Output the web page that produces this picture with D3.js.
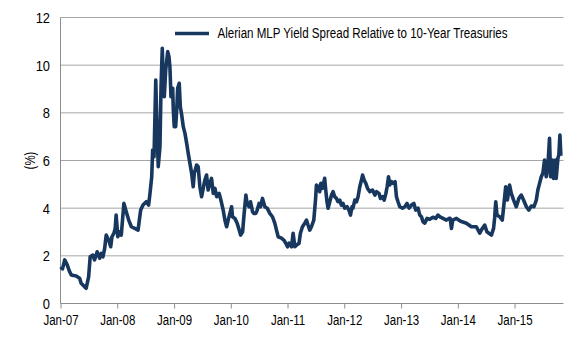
<!DOCTYPE html>
<html>
<head>
<meta charset="utf-8">
<script src="https://cdn.jsdelivr.net/npm/d3@7"></script>
<style>
  body { margin: 0; background: #fff; }
  text { font-family: "Liberation Sans", Arial, sans-serif; fill: #000; }
</style>
</head>
<body>
<div id="chart"></div>
<script>
var seriesName = "Alerian MLP Yield Spread Relative to 10-Year Treasuries";
var yTicks = [0, 2, 4, 6, 8, 10, 12];
var xTickLabels = ["Jan-07", "Jan-08", "Jan-09", "Jan-10", "Jan-11", "Jan-12", "Jan-13", "Jan-14", "Jan-15"];

var dates = [
  "2007-01-02", "2007-01-14", "2007-01-28", "2007-02-13", "2007-03-01", "2007-03-11", "2007-03-25", "2007-04-12",
  "2007-05-04", "2007-05-14", "2007-06-05", "2007-06-15", "2007-07-01", "2007-07-11", "2007-07-28", "2007-08-08",
  "2007-08-25", "2007-09-10", "2007-09-20", "2007-10-01", "2007-10-12", "2007-10-22", "2007-11-07", "2007-11-20",
  "2007-11-28", "2007-12-11", "2007-12-19", "2007-12-25",
  "2008-01-05", "2008-01-16", "2008-01-27", "2008-02-13", "2008-02-28", "2008-03-15", "2008-04-01", "2008-04-23",
  "2008-05-14", "2008-05-31", "2008-06-15", "2008-07-06", "2008-07-21", "2008-07-30", "2008-08-10", "2008-08-16",
  "2008-08-25", "2008-09-05", "2008-09-11", "2008-09-21", "2008-10-02", "2008-10-09", "2008-10-17", "2008-10-23",
  "2008-10-30", "2008-11-08", "2008-11-14", "2008-11-21", "2008-11-29", "2008-12-05", "2008-12-12", "2008-12-16",
  "2008-12-23", "2008-12-27",
  "2009-01-02", "2009-01-11", "2009-01-18", "2009-01-24", "2009-02-03", "2009-02-10", "2009-02-19", "2009-03-01",
  "2009-03-12", "2009-03-23", "2009-04-02", "2009-04-13", "2009-04-24", "2009-05-04", "2009-05-11", "2009-05-26",
  "2009-06-05", "2009-06-16", "2009-06-27", "2009-07-18", "2009-07-29", "2009-08-08", "2009-08-19", "2009-08-30",
  "2009-09-10", "2009-09-21", "2009-10-02", "2009-10-18", "2009-10-29", "2009-11-13", "2009-11-24", "2009-12-05",
  "2009-12-15",
  "2010-01-06", "2010-01-12", "2010-01-27", "2010-02-11", "2010-02-24", "2010-03-05", "2010-03-18", "2010-03-26",
  "2010-04-08", "2010-04-16", "2010-04-29", "2010-05-08", "2010-05-21", "2010-05-29", "2010-06-11", "2010-06-20",
  "2010-07-02", "2010-07-11", "2010-07-24", "2010-08-08", "2010-08-23", "2010-09-09", "2010-09-26", "2010-10-11",
  "2010-10-22", "2010-11-02", "2010-11-23", "2010-12-08", "2010-12-21",
  "2011-01-01", "2011-01-11", "2011-01-27", "2011-02-06", "2011-02-17", "2011-02-28", "2011-03-16", "2011-03-25",
  "2011-04-07", "2011-04-22", "2011-05-03", "2011-05-13", "2011-05-24", "2011-06-04", "2011-06-19", "2011-06-30",
  "2011-07-06", "2011-07-16", "2011-07-27", "2011-08-03", "2011-08-14", "2011-08-28", "2011-09-04", "2011-09-12",
  "2011-09-19", "2011-09-30", "2011-10-11", "2011-10-21", "2011-11-01", "2011-11-12", "2011-11-22", "2011-12-03",
  "2011-12-14", "2011-12-24",
  "2012-01-04", "2012-01-19", "2012-01-31", "2012-02-10", "2012-02-20", "2012-02-26", "2012-03-09", "2012-03-20",
  "2012-03-30", "2012-04-10", "2012-04-21", "2012-04-28", "2012-05-08", "2012-05-19", "2012-05-30", "2012-06-14",
  "2012-07-01", "2012-07-16", "2012-07-27", "2012-08-12", "2012-08-21", "2012-09-03", "2012-09-14", "2012-09-25",
  "2012-10-03", "2012-10-12", "2012-10-20", "2012-10-31", "2012-11-10", "2012-11-23", "2012-12-02", "2012-12-12",
  "2012-12-23",
  "2013-01-10", "2013-01-25", "2013-02-08", "2013-02-21", "2013-03-09", "2013-03-24", "2013-04-05", "2013-04-20",
  "2013-05-01", "2013-05-12", "2013-05-22", "2013-06-02", "2013-06-17", "2013-07-04", "2013-07-25", "2013-08-12",
  "2013-08-26", "2013-09-11", "2013-09-28", "2013-10-19", "2013-11-05", "2013-11-13", "2013-11-21", "2013-11-29",
  "2013-12-23",
  "2014-01-19", "2014-02-25", "2014-03-29", "2014-04-30", "2014-05-22", "2014-06-03", "2014-06-23", "2014-07-07",
  "2014-08-05", "2014-08-19", "2014-08-26", "2014-09-02", "2014-09-10", "2014-09-27", "2014-10-14", "2014-10-23",
  "2014-11-05", "2014-11-16", "2014-11-30", "2014-12-11", "2014-12-26",
  "2015-01-12", "2015-01-29", "2015-02-13", "2015-02-28", "2015-03-18", "2015-04-03", "2015-04-19", "2015-05-06",
  "2015-05-21", "2015-05-31", "2015-06-11", "2015-06-22", "2015-07-02", "2015-07-13", "2015-07-24", "2015-08-03",
  "2015-08-14", "2015-08-21", "2015-09-01", "2015-09-09", "2015-09-20", "2015-09-26", "2015-10-07", "2015-10-13",
  "2015-10-20", "2015-10-26"
];

var spread = [
  1.54, 1.45, 1.83, 1.62, 1.33, 1.20, 1.18, 1.15,
  1.06, 0.85, 0.70, 0.64, 1.12, 1.96, 2.03, 1.83,
  2.17, 1.90, 2.10, 1.96, 2.30, 2.87, 2.66, 2.38,
  2.80, 2.95, 3.15, 3.71,
  2.80, 3.01, 2.87, 4.20, 3.85, 3.50, 3.22, 3.15,
  3.08, 3.92, 4.13, 4.27, 4.13, 4.62, 5.32, 6.44,
  6.16, 9.38, 7.84, 5.74, 6.58, 9.10, 10.71, 9.38,
  8.68, 9.80, 10.15, 10.57, 10.36, 9.94, 8.68, 8.96,
  9.03, 8.12,
  7.42, 7.42, 8.12, 9.03, 9.24, 8.26, 7.91, 7.42,
  7.14, 6.72, 6.30, 5.88, 5.46, 4.90, 5.46, 5.81,
  5.74, 4.90, 4.48, 5.18, 5.39, 4.76, 5.04, 5.25,
  4.62, 4.83, 4.48, 4.62, 4.34, 3.92, 3.50, 3.22,
  3.50,
  4.06, 3.64, 3.57, 3.37, 3.08, 2.87, 3.01, 3.64,
  4.55, 4.20, 4.06, 4.27, 3.85, 3.78, 3.78, 3.92,
  4.20, 4.06, 4.41, 4.06, 4.00, 3.78, 3.64, 3.37,
  3.08, 2.80, 2.74, 2.66, 2.53,
  2.38, 2.53, 2.38, 2.95, 2.38, 2.45, 2.53, 2.95,
  3.22, 3.37, 3.50, 3.29, 3.08, 3.22, 3.50, 4.34,
  4.97, 4.90, 4.69, 5.04, 4.83, 5.25, 4.76, 4.27,
  4.00, 4.27, 4.55, 4.69, 4.48, 4.41, 4.27, 4.34,
  4.13, 4.20,
  4.00, 4.06, 3.92, 3.71, 4.06, 4.00, 4.34, 4.27,
  4.48, 4.90, 5.18, 5.39, 5.18, 5.04, 4.83, 4.69,
  4.76, 4.55, 4.69, 4.62, 4.41, 4.48, 4.34, 4.62,
  4.90, 5.32, 4.97, 5.11, 5.04, 5.11, 4.48, 4.27,
  4.06,
  4.00, 4.06, 4.20, 4.00, 4.13, 4.20, 3.92, 4.00,
  3.71, 3.64, 3.43, 3.37, 3.57, 3.53, 3.62, 3.57,
  3.71, 3.62, 3.57, 3.50, 3.57, 3.57, 3.15, 3.50,
  3.57,
  3.45, 3.37, 3.22, 3.22, 2.95, 3.10, 3.29, 3.01,
  2.87, 3.15, 3.60, 4.27, 3.71, 3.64, 3.50, 4.06,
  4.90, 4.34, 4.97, 4.62, 4.34,
  4.06, 4.41, 4.55, 4.34, 4.06, 3.92, 4.09, 4.06,
  4.34, 4.76, 5.04, 5.32, 5.46, 6.02, 5.32, 5.74,
  6.93, 5.32, 6.02, 5.25, 6.02, 5.25, 6.09, 6.23,
  7.07, 6.20
];

var width = 583, height = 350;
var margin = {top: 17.5, right: 19.5, bottom: 46.5, left: 60.5};
var parseDate = d3.timeParse("%Y-%m-%d");
var narrow = "scale(0.82,1)";   // squeeze Liberation Sans to look like a condensed face

var data = dates.map(function (d, i) {
    return {date: parseDate(d), value: spread[i]};
});

var svg = d3.select("#chart")
    .append("svg")
    .attr("width", width)
    .attr("height", height);

var x = d3.scaleTime()
    .domain([new Date(2007, 0, 1), new Date(2015, 10, 12)])
    .range([margin.left, width - margin.right]);

var y = d3.scaleLinear()
    .domain([0, 12])
    .range([height - margin.bottom, margin.top]);

// gridlines
svg.append("g")
    .selectAll("line")
    .data(yTicks.slice(1))
    .enter()
    .append("line")
    .attr("x1", margin.left)
    .attr("x2", width - margin.right)
    .attr("y1", function (d) { return y(d); })
    .attr("y2", function (d) { return y(d); })
    .attr("stroke", "#a6a6a6")
    .attr("stroke-width", 1);

// y axis labels
svg.append("g")
    .selectAll("g")
    .data(yTicks)
    .enter()
    .append("g")
    .attr("transform", function (d) { return "translate(50," + y(d) + ")"; })
    .append("text")
    .attr("transform", "scale(0.86,1)")
    .attr("dy", "0.36em")
    .attr("text-anchor", "end")
    .style("font-size", "15px")
    .text(function (d) { return d; });

svg.append("g")
    .attr("transform", "translate(35," + y(6) + ") rotate(-90)")
    .append("text")
    .attr("transform", narrow)
    .attr("text-anchor", "middle")
    .style("font-size", "14px")
    .text("(%)");

// x axis
var xTicks = xTickLabels.map(function (d, i) { return new Date(2007 + i, 0, 1); });
var xAxis = svg.append("g")
    .attr("transform", "translate(0," + y(0) + ")")
    .call(d3.axisBottom(x)
        .tickValues(xTicks)
        .tickSize(5)
        .tickFormat(function (d, i) { return xTickLabels[i]; }));
xAxis.select(".domain").attr("stroke", "#8c8c8c").attr("d", "M" + margin.left + ",0H" + (width - margin.right));
xAxis.selectAll(".tick line").attr("stroke", "#8c8c8c");
xAxis.selectAll(".tick text")
    .attr("y", 12)
    .attr("dy", "0.71em")
    .attr("transform", narrow)
    .style("font-size", "14px")
    .style("font-family", "'Liberation Sans', Arial, sans-serif")
    .attr("fill", "#000");

// left axis line
svg.append("line")
    .attr("x1", margin.left).attr("x2", margin.left)
    .attr("y1", y(12)).attr("y2", y(0))
    .attr("stroke", "#8c8c8c");

// series line
var line = d3.line()
    .x(function (d) { return x(d.date); })
    .y(function (d) { return y(d.value); });

svg.append("path")
    .datum(data)
    .attr("fill", "none")
    .attr("stroke", "#17375e")
    .attr("stroke-width", 3.6)
    .attr("stroke-linejoin", "round")
    .attr("d", line);

// legend
var legend = svg.append("g");
legend.append("rect").attr("x", 173).attr("y", 24).attr("width", 340).attr("height", 18).attr("fill", "#fff");
legend.append("line")
    .attr("x1", 175).attr("x2", 209)
    .attr("y1", 33.5).attr("y2", 33.5)
    .attr("stroke", "#17375e")
    .attr("stroke-width", 3.6);
legend.append("text")
    .attr("x", 217.5)
    .attr("y", 38)
    .attr("textLength", 290)
    .attr("lengthAdjust", "spacingAndGlyphs")
    .style("font-size", "14px")
    .text(seriesName);
</script>
</body>
</html>
